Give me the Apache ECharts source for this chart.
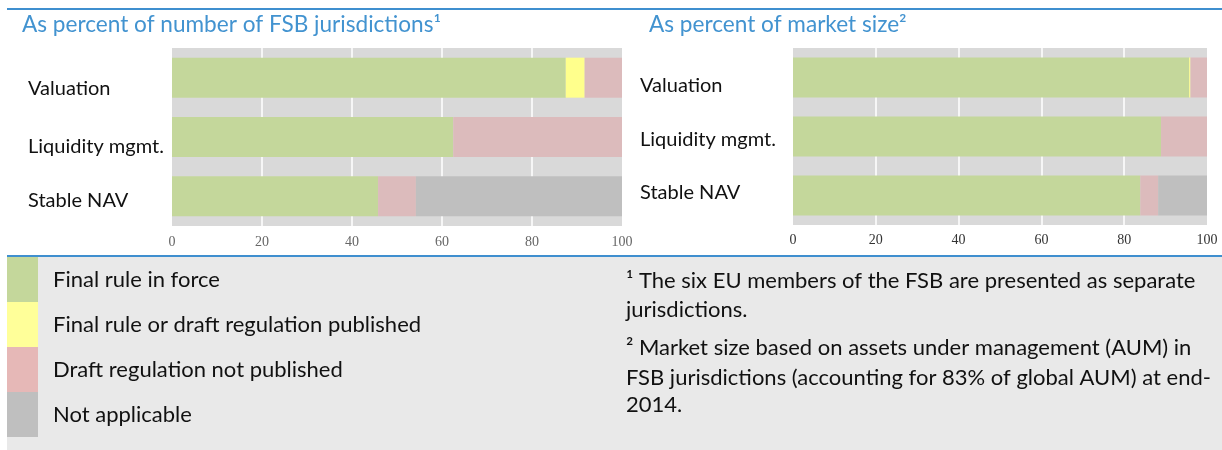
<!DOCTYPE html>
<html>
<head>
<meta charset="utf-8">
<script src="https://cdn.jsdelivr.net/npm/echarts@6/dist/echarts.min.js"></script>
<style>
  html, body { margin: 0; padding: 0; background: #fff; }
  #chart { width: 1222px; height: 450px; }
</style>
</head>
<body>
<div id="chart"></div>
<script>
// categories (top to bottom)
const categories = ['Valuation', 'Liquidity mgmt.', 'Stable NAV']

// left panel: as percent of number of FSB jurisdictions
const jurFinal = [87.5, 62.5, 45.8]
const jurDraftPub = [4.2, 0, 0]
const jurNotPub = [8.3, 37.5, 8.4]
const jurNA = [0, 0, 45.8]

// right panel: as percent of market size
const mktFinal = [95.7, 88.9, 83.9]
const mktDraftPub = [0.3, 0, 0]
const mktNotPub = [4.0, 11.1, 4.3]
const mktNA = [0, 0, 11.8]

const statusNames = ['Final rule in force', 'Final rule or draft regulation published', 'Draft regulation not published', 'Not applicable']

const footnotes = [
  '\u00b9 The six EU members of the FSB are presented as separate',
  'jurisdictions.',
  '\u00b2 Market size based on assets under management (AUM) in',
  'FSB jurisdictions (accounting for 83% of global AUM) at end-',
  '2014.'
]

const barColors = ['#C4D79B', '#FFFF8C', '#DCBBBC', '#BFBFBF']
const legendColors = ['#C4D79B', '#FFFF99', '#E6B8B7', '#BFBFBF']
const font = 'Lato'
const blue = '#3F8FCF'

// small vertical nudges for the category labels, like in the original
const leftNudge = [11, 10, 4]
const rightNudge = [8, 3, -3]
const nudgeRich = (nudge) => {
  const r = {}
  nudge.forEach((d, i) => {
    r['n' + i] = { padding: d >= 0 ? [d * 2, 0, 0, 0] : [0, 0, -d * 2, 0], fontFamily: font, fontSize: 20, color: '#111' }
  })
  return r
}

const xAxisBase = (gi, margin, color) => ({
  gridIndex: gi,
  type: 'value',
  min: 0,
  max: 100,
  interval: 20,
  axisLine: { show: false },
  axisTick: { show: false },
  splitLine: { show: true, showMinLine: false, showMaxLine: false, lineStyle: { color: '#ffffff', width: 1.5 } },
  axisLabel: { margin: margin, fontFamily: 'Liberation Serif', fontSize: 14, color: color }
})

const yAxisBase = (gi, margin, nudge) => ({
  gridIndex: gi,
  type: 'category',
  inverse: true,
  data: categories,
  axisLine: { show: false },
  axisTick: { show: false },
  axisLabel: {
    align: 'left',
    margin: margin,
    formatter: (v, i) => '{n' + i + '|' + v + '}',
    rich: nudgeRich(nudge)
  }
})

const mkSeries = (name, data, gi, stack, color) => ({
  name: name,
  type: 'bar',
  stack: stack,
  xAxisIndex: gi,
  yAxisIndex: gi,
  data: data,
  barWidth: 40,
  itemStyle: { color: color },
  emphasis: { disabled: true }
})

const leftSets = [jurFinal, jurDraftPub, jurNotPub, jurNA]
const rightSets = [mktFinal, mktDraftPub, mktNotPub, mktNA]
const series = []
statusNames.forEach((n, i) => {
  series.push(mkSeries(n, leftSets[i], 0, 'jur', barColors[i]))
  series.push(mkSeries(n, rightSets[i], 1, 'mkt', barColors[i]))
})

const footY = [281, 310, 348, 378, 405]
const footGraphics = footnotes.map((t, i) => ({
  type: 'text',
  x: 626,
  y: footY[i],
  style: { text: t, font: '22px ' + font, fill: '#111', verticalAlign: 'middle' }
}))

const chart = echarts.init(document.getElementById('chart'))
const option = {
  animation: false,
  grid: [
    { left: 172, top: 48, width: 450, height: 178, show: true, backgroundColor: '#D9D9D9', borderWidth: 0, containLabel: false, outerBoundsMode: 'none' },
    { left: 793, top: 48, width: 414, height: 177, show: true, backgroundColor: '#D9D9D9', borderWidth: 0, containLabel: false, outerBoundsMode: 'none' }
  ],
  xAxis: [xAxisBase(0, 9, '#666'), xAxisBase(1, 8, '#333')],
  yAxis: [yAxisBase(0, 144, leftNudge), yAxisBase(1, 153, rightNudge)],
  legend: {
    orient: 'vertical',
    left: 7,
    top: 257,
    padding: 0,
    itemGap: 0,
    itemWidth: 31,
    itemHeight: 45,
    icon: 'rect',
    selectedMode: false,
    data: statusNames.map((n, i) => ({ name: n, itemStyle: { color: legendColors[i] } })),
    textStyle: { fontFamily: font, fontSize: 22, color: '#111', padding: [0, 0, 0, 10] }
  },
  graphic: [
    { type: 'rect', z: -10, shape: { x: 7, y: 257, width: 1215, height: 193 }, style: { fill: '#E9E9E9' } },
    { type: 'rect', shape: { x: 7, y: 8, width: 1215, height: 2 }, style: { fill: blue } },
    { type: 'rect', shape: { x: 7, y: 255, width: 1215, height: 2 }, style: { fill: blue } },
    { type: 'text', x: 22, y: 25, style: { text: 'As percent of number of FSB jurisdictions\u00b9', font: '22.6px ' + font, fill: '#4293D0', verticalAlign: 'middle' } },
    { type: 'text', x: 649, y: 25, style: { text: 'As percent of market size\u00b2', font: '22.6px ' + font, fill: '#4293D0', verticalAlign: 'middle' } }
  ].concat(footGraphics),
  series: series
}
chart.setOption(option)
</script>
</body>
</html>
